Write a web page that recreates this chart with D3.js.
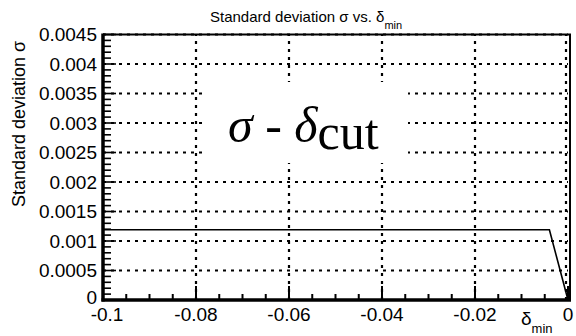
<!DOCTYPE html>
<html><head><meta charset="utf-8">
<script src="https://cdn.jsdelivr.net/npm/d3@7"></script>
<style>body{margin:0;background:#fff}svg{display:block}text{font-family:"Liberation Sans",Arial,sans-serif}text.serif{font-family:"Liberation Serif","DejaVu Serif",serif}</style>
</head><body><svg id="c" width="576" height="336"></svg>
<script>
const deltaMin = [-0.1, -0.004, 0];
const sigma = [0.00119, 0.00119, 0];
const xTicks = [-0.1, -0.08, -0.06, -0.04, -0.02, 0];
const xTickLabels = ["-0.1", "-0.08", "-0.06", "-0.04", "-0.02", "0"];
const yTicks = [0, 0.0005, 0.001, 0.0015, 0.002, 0.0025, 0.003, 0.0035, 0.004, 0.0045];
const yTickLabels = ["0", "0.0005", "0.001", "0.0015", "0.002", "0.0025", "0.003", "0.0035", "0.004", "0.0045"];

const svg = d3.select("#c");
const L = 103, R = 568, T = 34.5, B = 300;
const x = d3.scaleLinear().domain([-0.1, 0]).range([L, R]);
const y = d3.scaleLinear().domain([0, 0.0045]).range([B, T]);

// grid
const g = svg.append("g");
g.selectAll(".gx").data(xTicks.slice(1)).join("line")
  .attr("x1", d => x(d) - (d === 0 ? 2 : 0)).attr("x2", d => x(d) - (d === 0 ? 2 : 0))
  .attr("y1", B).attr("y2", T)
  .attr("stroke", "#000").attr("stroke-width", 2.2).attr("stroke-dasharray", "3,5");
g.selectAll(".gy").data(yTicks.slice(1)).join("line")
  .attr("x1", L).attr("x2", R).attr("y1", d => y(d)).attr("y2", d => y(d))
  .attr("stroke", "#000").attr("stroke-width", 2.2).attr("stroke-dasharray", "3,5");

// minor ticks
const yMinor = d3.range(0, 46).map(i => i * 0.0001);
svg.append("g").selectAll("line").data(yMinor).join("line")
  .attr("x1", L).attr("x2", (d, i) => L + (i % 5 === 0 ? 13 : 8))
  .attr("y1", d => y(d)).attr("y2", d => y(d))
  .attr("stroke", "#000").attr("stroke-width", 1.6);
const xMinor = d3.range(0, 21).map(i => -0.1 + i * 0.005);
svg.append("g").selectAll("line").data(xMinor).join("line")
  .attr("x1", d => x(d)).attr("x2", d => x(d))
  .attr("y1", B).attr("y2", (d, i) => B - (i % 4 === 0 ? 14 : 6))
  .attr("stroke", "#000").attr("stroke-width", 2);

// data line
const line = d3.line().x((d, i) => x(deltaMin[i])).y(d => y(d));
svg.append("path").datum(sigma).attr("d", line)
  .attr("fill", "none").attr("stroke", "#000").attr("stroke-width", 1.6);

// frame
svg.append("line").attr("x1", L).attr("x2", L).attr("y1", T - 1).attr("y2", B + 1.5).attr("stroke", "#000").attr("stroke-width", 3.5);
svg.append("line").attr("x1", L - 1.5).attr("x2", R + 3).attr("y1", B).attr("y2", B).attr("stroke", "#000").attr("stroke-width", 3.5);
svg.append("line").attr("x1", L).attr("x2", R + 3).attr("y1", T).attr("y2", T).attr("stroke", "#000").attr("stroke-width", 2);
svg.append("line").attr("x1", R + 2).attr("x2", R + 2).attr("y1", T).attr("y2", B).attr("stroke", "#000").attr("stroke-width", 2);

// tick labels
svg.append("g").selectAll("text").data(yTicks).join("text")
  .attr("x", L - 6).attr("y", d => y(d) + (d === 0 ? 4 : 6.5)).attr("text-anchor", "end")
  .attr("font-size", 19).text((d, i) => yTickLabels[i]);
svg.append("g").selectAll("text").data(xTicks).join("text")
  .attr("x", d => x(d) + (d === -0.1 ? 4 : 0)).attr("y", 321).attr("text-anchor", "middle")
  .attr("font-size", 19).text((d, i) => xTickLabels[i]);

// axis titles
svg.append("text").attr("transform", "translate(25,124) rotate(-90)").attr("text-anchor", "middle")
  .attr("font-size", 18).text("Standard deviation σ");
const xt = svg.append("text").attr("x", 521).attr("y", 325).attr("font-size", 19);
xt.append("tspan").text("δ");
xt.append("tspan").attr("font-size", 13).attr("dy", 8).text("min");

// chart title
const tt = svg.append("text").attr("x", 210).attr("y", 22).attr("font-size", 15);
tt.append("tspan").text("Standard deviation σ vs. δ");
tt.append("tspan").attr("font-size", 11).attr("dy", 7).text("min");

// annotation box
svg.append("rect").attr("x", 205).attr("y", 82).attr("width", 203).attr("height", 81).attr("fill", "#fff");
const an = svg.append("text").attr("class", "serif").attr("x", 228).attr("y", 142).attr("font-size", 50);
an.append("tspan").attr("font-style", "italic").text("σ");
an.append("tspan").text(" - ");
an.append("tspan").attr("font-style", "italic").text("δ");
an.append("tspan").attr("dy", 7).text("cut");
</script></body></html>
